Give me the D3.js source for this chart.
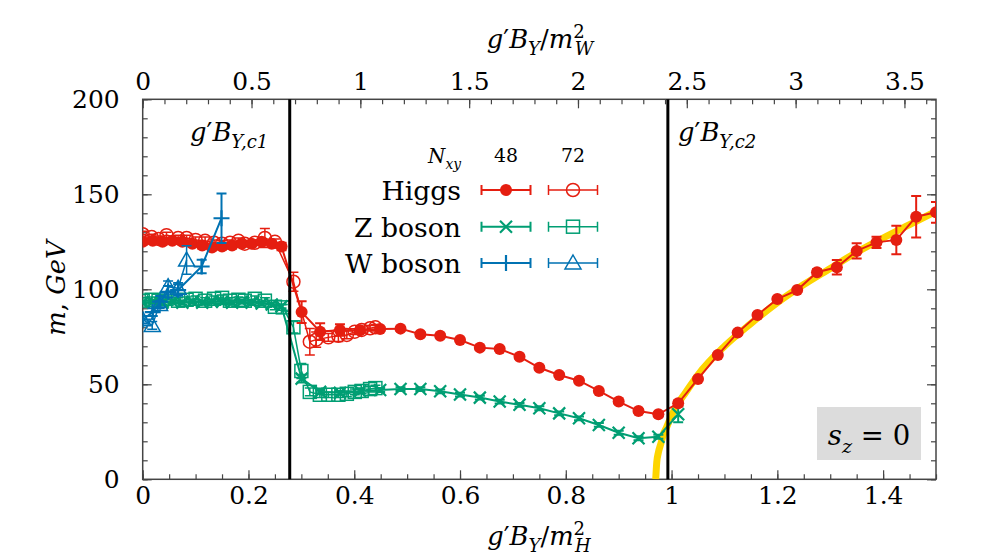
<!DOCTYPE html>
<html>
<head>
<meta charset="utf-8">
<script src="https://cdn.jsdelivr.net/npm/d3@7"></script>
<style>
  body { margin: 0; background: #fff; }
</style>
</head>
<body>
<script>
// values: [g'B_Y/m_H^2, m (GeV), error]
const higgs48 = [
  [0,125,1.5],[0.019,125.5,1.5],[0.0375,125,1.5],[0.056,125.5,1.5],[0.075,125,1.5],[0.094,124,1.5],
  [0.1125,123,1.5],[0.131,122,1.5],[0.15,122.5,1.5],[0.169,123,1.5],[0.1875,124,1.5],[0.206,124,1.5],
  [0.225,125,1.5],[0.244,124,1.5],[0.2625,122.5,2],[0.3005,88,5.7],[0.3355,77.7,4.4],[0.373,78.6,3],
  [0.411,78.5,1.5],[0.449,79.1,1],[0.4875,79.3,1],[0.525,76.4,1],[0.5625,75.6,1],[0.6,73.3,1],
  [0.6375,69.3,1],[0.675,68.6,1],[0.7125,64.5,1],[0.75,58.7,1],[0.7875,54.9,1],[0.825,51.9,1],
  [0.8625,46.5,1],[0.9,40.9,1],[0.9375,35.9,1],[0.975,34.2,1],[1.0125,40,1.5],[1.05,52.8,1],
  [1.0875,65.4,1],[1.125,77.2,1],[1.1625,86.5,1],[1.2,94.9,1],[1.2375,99.6,1],[1.275,109,1.5],
  [1.3125,111.6,3.8],[1.35,120.2,4],[1.3875,124.7,3],[1.425,126,7.5],[1.4625,138.2,10.9],[1.5,140.5,5.5]
]
const higgs72 = [
  [0,129,1.5],[0.017,127.5,1.5],[0.03,126.5,1.5],[0.045,128.5,1.5],[0.067,127,1.5],[0.083,127,1.5],
  [0.1,126,1.5],[0.118,125.5,2],[0.135,124.5,1.5],[0.15,124,1.5],[0.165,124.5,1.5],[0.181,125.5,1.5],
  [0.193,124,1.5],[0.212,124.5,1.5],[0.231,127,5],[0.25,125,1.5],[0.285,104,5],[0.316,72.4,7],
  [0.328,73.5,4],[0.351,74.7,2],[0.37,75.5,3],[0.386,76,2],[0.401,77.7,1.5],[0.414,78.6,1.5],
  [0.43,79.5,1.5],[0.44,80,1.5]
]
const zboson48 = [
  [0,93,1],[0.019,93.5,1],[0.0375,93,1],[0.056,93.5,1],[0.075,93,1],[0.094,93.5,1],[0.1125,93,1],
  [0.131,93.5,1],[0.15,93.5,1],[0.169,93,1],[0.1875,93.5,1],[0.206,93,1],[0.225,92.5,1],[0.244,92,1],
  [0.2625,91,1],[0.3005,53,2],[0.3355,46,1],[0.373,45.5,1],[0.411,46.5,1],[0.449,47,1],[0.4875,47.5,1],
  [0.525,47.5,1],[0.5625,46.3,1],[0.6,44.6,1],[0.6375,43,1],[0.675,40.9,1],[0.7125,39.2,1],
  [0.75,37.4,1],[0.7875,34.7,1],[0.825,32.1,1],[0.8625,28.6,1],[0.9,24.5,1],[0.9375,21.6,1],
  [0.975,22.4,1],[1.0125,34.2,4.2]
]
const zboson72 = [
  [0,94,1.5],[0.017,94.5,1.5],[0.03,94,1.5],[0.045,95,1.5],[0.067,94,1.5],[0.083,94.5,1.5],[0.1,95,1.5],
  [0.118,94,1.5],[0.135,95,1.5],[0.15,95.5,1.5],[0.165,94,1.5],[0.181,94.5,1.5],[0.193,94,1.5],
  [0.212,95,1.5],[0.231,94,1.5],[0.25,90.8,1.5],[0.265,90.5,1.5],[0.285,80,3],[0.3,57,4],[0.316,46,2],
  [0.335,44.5,1.5],[0.351,44.5,1.5],[0.37,44.5,1.5],[0.386,45,1.5],[0.401,46,1.5],[0.414,46.5,1.5],
  [0.43,47.5,1.5],[0.44,48,1.5]
]
const wboson48 = [
  [0,84,2],[0.019,88,2],[0.033,93.5,3],[0.048,98.7,3],[0.067,99.6,3],[0.1115,112,3.5],[0.149,137.4,13]
]
const wboson72 = [
  [0,84,2],[0.018,81,2],[0.032,92,2],[0.048,101.4,3],[0.067,100.5,3],[0.083,115.4,7.5]
]
// yellow fit band
const fitX = [0.97,0.972,0.975,0.98,0.985,0.99,1.0,1.01,1.025,1.05,1.1,1.15,1.2,1.25,1.3,1.35,1.4,1.45,1.5]
const fitM = [0,9,14,19,24,27,33.5,39,45,55,70,82,93,102.5,111,119.5,127,134,141]

const criticalX = [0.278, 0.993]
const xTicksH = [0, 0.2, 0.4, 0.6, 0.8, 1, 1.2, 1.4]
const xTicksW = [0, 0.5, 1, 1.5, 2, 2.5, 3, 3.5]
const yTicks = [0, 50, 100, 150, 200]
const ratioWH = 2.43 // m_H^2 / m_W^2

const red = "#e51e10", green = "#009e73", blue = "#0072b2"
const serif = "DejaVu Serif"
const fs = 0.86 // DejaVu Serif runs wide, shrink a bit

const svg = d3.select("body").append("svg").attr("width", 996).attr("height", 558)
  .attr("font-family", serif)
const margin = {top: 99.3, left: 142.7}
const width = 793.3
const height = 380

const chart = svg.append("g").attr("transform", `translate(${margin.left},${margin.top})`)

let x = d3.scaleLinear().domain([0, 1.5]).range([0, width])
let xW = d3.scaleLinear().domain([0, 1.5 * ratioWH]).range([0, width])
let y = d3.scaleLinear().domain([0, 200]).range([height, 0])

chart.append("clipPath").attr("id", "clip")
  .append("rect").attr("width", width).attr("height", height)

// axes, ticks pointing inward
function axisStyle(g) {
  g.attr("font-family", serif)
  g.select(".domain").remove()
  g.selectAll("line").attr("stroke", "#444").attr("stroke-width", 1.2)
  g.selectAll("text").attr("font-size", 29 * fs).attr("fill", "#000")
}
const minorH = d3.range(0, 1.5001, 0.05)
const minorW = d3.range(0, 3.64, 0.1)
const minorY = d3.range(0, 200.1, 10)

chart.append("g").attr("transform", `translate(0,${height})`)
  .call(d3.axisBottom(x).tickValues(minorH).tickFormat("").tickSize(-5)).call(axisStyle)
chart.append("g").attr("transform", `translate(0,${height})`)
  .call(d3.axisBottom(x).tickValues(xTicksH).tickFormat(d3.format("")).tickSize(-9).tickPadding(7)).call(axisStyle)
chart.append("g")
  .call(d3.axisTop(xW).tickValues(minorW).tickFormat("").tickSize(-5)).call(axisStyle)
chart.append("g")
  .call(d3.axisTop(xW).tickValues(xTicksW).tickFormat(d3.format("")).tickSize(-9).tickPadding(9)).call(axisStyle)
chart.append("g")
  .call(d3.axisLeft(y).tickValues(minorY).tickFormat("").tickSize(-5)).call(axisStyle)
chart.append("g")
  .call(d3.axisLeft(y).tickValues(yTicks).tickFormat(d3.format("")).tickSize(-9).tickPadding(23)).call(axisStyle)
chart.append("g").attr("transform", `translate(${width},0)`)
  .call(d3.axisRight(y).tickValues(minorY).tickFormat("").tickSize(-5)).call(axisStyle)
chart.append("g").attr("transform", `translate(${width},0)`)
  .call(d3.axisRight(y).tickValues(yTicks).tickFormat("").tickSize(-9)).call(axisStyle)

chart.append("rect").attr("width", width).attr("height", height)
  .attr("fill", "none").attr("stroke", "#444").attr("stroke-width", 1.5)

// yellow fit
const fitData = fitX.map((d, i) => [d, fitM[i]])
chart.append("path")
  .attr("clip-path", "url(#clip)")
  .attr("d", d3.line().x(d => x(d[0])).y(d => y(d[1])).curve(d3.curveMonotoneX)(fitData))
  .attr("fill", "none").attr("stroke", "#fdd500").attr("stroke-width", 7)

// markers
function marker(g, type, color, cx, cy) {
  if (type === "fcircle") {
    g.append("circle").attr("cx", cx).attr("cy", cy).attr("r", 6).attr("fill", color)
  } else if (type === "ocircle") {
    g.append("circle").attr("cx", cx).attr("cy", cy).attr("r", 6.5).attr("fill", "none").attr("stroke", color).attr("stroke-width", 1.5)
  } else if (type === "cross") {
    g.append("path").attr("d", `M${cx-6},${cy-6}L${cx+6},${cy+6}M${cx-6},${cy+6}L${cx+6},${cy-6}`).attr("stroke", color).attr("stroke-width", 2.2)
  } else if (type === "square") {
    g.append("rect").attr("x", cx-6.5).attr("y", cy-6.5).attr("width", 13).attr("height", 13).attr("fill", "none").attr("stroke", color).attr("stroke-width", 1.5)
  } else if (type === "plus") {
    g.append("path").attr("d", `M${cx-8},${cy}L${cx+8},${cy}M${cx},${cy-8}L${cx},${cy+8}`).attr("stroke", color).attr("stroke-width", 2.2)
  } else if (type === "triangle") {
    g.append("path").attr("d", `M${cx},${cy-8}L${cx+8},${cy+6}L${cx-8},${cy+6}Z`).attr("fill", "none").attr("stroke", color).attr("stroke-width", 1.5)
  }
}

function drawSeries(data, color, type, lw) {
  const g = chart.append("g").attr("clip-path", "url(#clip)")
  g.append("path")
    .attr("d", d3.line().x(d => x(d[0])).y(d => y(d[1]))(data))
    .attr("fill", "none").attr("stroke", color).attr("stroke-width", lw)
  data.forEach(function(d) {
    const cx = x(d[0]), y0 = y(d[1] - d[2]), y1 = y(d[1] + d[2])
    g.append("path")
      .attr("d", `M${cx},${y0}L${cx},${y1}M${cx-5},${y0}L${cx+5},${y0}M${cx-5},${y1}L${cx+5},${y1}`)
      .attr("stroke", color).attr("stroke-width", lw)
    marker(g, type, color, cx, y(d[1]))
  })
}

drawSeries(zboson72, green, "square", 1.5)
drawSeries(zboson48, green, "cross", 2)
drawSeries(higgs72, red, "ocircle", 1.5)
drawSeries(higgs48, red, "fcircle", 2)
drawSeries(wboson72, blue, "triangle", 1.5)
drawSeries(wboson48, blue, "plus", 2)

// critical lines
chart.selectAll(".crit").data(criticalX).enter().append("line")
  .attr("class", "crit")
  .attr("x1", d => x(d)).attr("x2", d => x(d))
  .attr("y1", y(0)).attr("y2", y(200))
  .attr("stroke", "#000").attr("stroke-width", 3)

// math-ish text made of tspans
function mathText(sel, px, py, parts, size, anchor) {
  size = size * fs
  const t = sel.append("text").attr("x", px).attr("y", py).attr("font-family", serif)
    .attr("font-size", size).attr("text-anchor", anchor || "start").attr("fill", "#000")
  let off = 0
  parts.forEach(function(p) {
    const target = p.sh === "sub" ? size * 0.28 : p.sh === "sup" ? -size * 0.4 : 0
    t.append("tspan").attr("dy", target - off).attr("dx", p.dx || 0)
      .attr("font-size", p.sh ? size * 0.7 : size)
      .attr("font-style", p.i ? "italic" : "normal")
      .text(p.t)
    off = target
  })
  return t
}

const gpB = [{t: "g", i: true}, {t: "′"}, {t: "B", i: true}]
mathText(svg, 539, 545, gpB.concat([{t: "Y", i: true, sh: "sub"}, {t: "/"}, {t: "m", i: true},
  {t: "2", sh: "sup"}, {t: "H", i: true, sh: "sub", dx: -10}]), 30, "middle")
mathText(svg, 540, 48, gpB.concat([{t: "Y", i: true, sh: "sub"}, {t: "/"}, {t: "m", i: true},
  {t: "2", sh: "sup"}, {t: "W", i: true, sh: "sub", dx: -10}]), 30, "middle")

const ylab = svg.append("g").attr("transform", "translate(65,288) rotate(-90)")
mathText(ylab, 0, 0, [{t: "m", i: true}, {t: ", "}, {t: "GeV", i: true}], 30, "middle")

mathText(svg, 190, 141, gpB.concat([{t: "Y,c1", i: true, sh: "sub"}]), 30)
mathText(svg, 678, 141, gpB.concat([{t: "Y,c2", i: true, sh: "sub"}]), 30)

// legend
const legend = svg.append("g")
mathText(legend, 461, 163, [{t: "N", i: true}, {t: "xy", i: true, sh: "sub"}], 23, "end")
legend.append("text").attr("x", 506).attr("y", 162).attr("font-size", 22 * fs).attr("text-anchor", "middle").text("48")
legend.append("text").attr("x", 573).attr("y", 162).attr("font-size", 22 * fs).attr("text-anchor", "middle").text("72")

const legendRows = [
  {name: "Higgs", color: red, m48: "fcircle", m72: "ocircle", yy: 190},
  {name: "Z boson", color: green, m48: "cross", m72: "square", yy: 226.7},
  {name: "W boson", color: blue, m48: "plus", m72: "triangle", yy: 263}
]
legendRows.forEach(function(r) {
  legend.append("text").attr("x", 461).attr("y", r.yy + 10).attr("font-size", 31 * fs)
    .attr("text-anchor", "end").text(r.name)
  ;[[506, r.m48, 2], [573, r.m72, 1.5]].forEach(function(c) {
    legend.append("path")
      .attr("d", `M${c[0]-24.5},${r.yy}L${c[0]+24.5},${r.yy}M${c[0]-24.5},${r.yy-5}L${c[0]-24.5},${r.yy+5}M${c[0]+24.5},${r.yy-5}L${c[0]+24.5},${r.yy+5}`)
      .attr("stroke", r.color).attr("stroke-width", c[2])
    marker(legend, c[1], r.color, c[0], r.yy)
  })
})

// s_z = 0 box
svg.append("rect").attr("x", 817).attr("y", 407).attr("width", 104).attr("height", 53).attr("fill", "#dcdcdc")
mathText(svg, 869, 445, [{t: "s", i: true}, {t: "z", i: true, sh: "sub"}, {t: " = 0"}], 32, "middle")
</script>
</body>
</html>
